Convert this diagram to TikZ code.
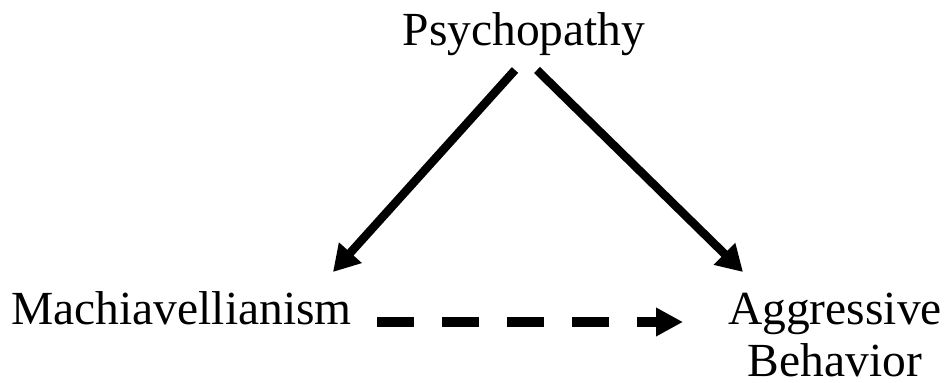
\documentclass[tikz,border=0pt]{standalone}
\usepackage{fontspec}
\setmainfont{Liberation Serif}
\usetikzlibrary{arrows.meta}
\begin{document}
\begin{tikzpicture}[x=1pt,y=1pt,
  lbl/.style={inner sep=0pt,anchor=base,font=\fontsize{47.5}{52}\selectfont,align=center},
  solidarrow/.style={line width=8.5pt,-{Triangle[length=26pt,width=29pt]}},
  dasharrow/.style={line width=9.5pt,dash pattern=on 37pt off 28pt,-{Triangle[length=27pt,width=27pt]}}]
\useasboundingbox (0,0) rectangle (946,383);
\node[lbl] (psy) at (524,337) {Psychopathy};
\node[lbl] (mach) at (181.5,58) {Machiavellianism};
\node[lbl] (agg) at (835,6) {Aggressive\\Behavior};
\coordinate (psyL) at (515,313);
\coordinate (psyR) at (537,313);
\coordinate (machT) at (333,111);
\coordinate (aggT) at (743,111);
\coordinate (machR) at (377,61);
\coordinate (aggL) at (683,61);
\draw[solidarrow] (psyL) -- (machT);
\draw[solidarrow] (psyR) -- (aggT);
\draw[dasharrow] (machR) -- (aggL);
\end{tikzpicture}
\end{document}
